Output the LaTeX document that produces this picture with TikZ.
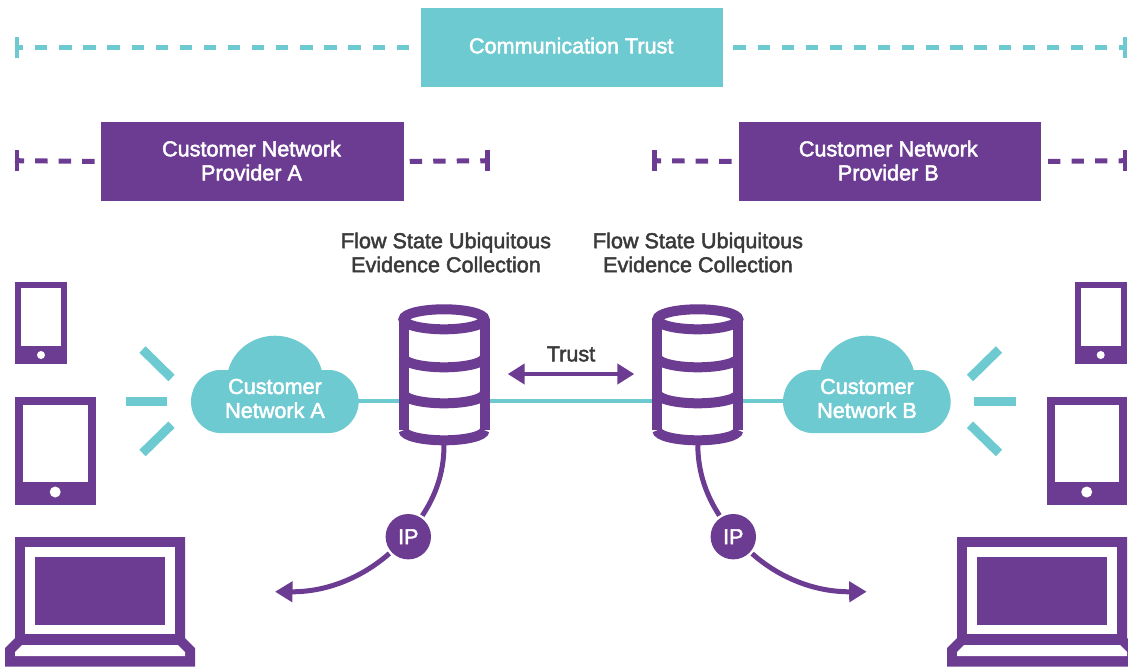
\documentclass[tikz,border=0pt]{standalone}
\usepackage{fontspec}
\setmainfont[FakeBold=2.2]{Liberation Sans}
\usetikzlibrary{arrows.meta}
\definecolor{teal0}{HTML}{6ECAD1}
\definecolor{purp}{HTML}{6C3C92}
\definecolor{ink}{HTML}{3A3A3A}
\tikzset{
  box/.style={inner sep=0pt,outer sep=0pt,minimum height=79pt,minimum width=302.5pt,align=center,text=white,text depth=2pt,font=\fontsize{21.6}{24}\selectfont},
  dashT/.style={teal0,line width=5pt,dash pattern=on 12.3pt off 11.8pt},
  dashP/.style={purp,line width=5pt,dash pattern=on 12.4pt off 11.1pt},
  barT/.style={teal0,line width=4.2pt},
  barP/.style={purp,line width=4.2pt},
  ray/.style={teal0,line width=9pt},
  link/.style={teal0,line width=4pt},
  flow/.style={purp,line width=5pt},
  head/.style={-{Triangle[length=17.5pt,width=20pt]}},
  label/.style={align=center,text=ink,font=\fontsize{21.6}{24}\selectfont,inner sep=0pt},
  cloudtext/.style={align=center,text=white,font=\fontsize{21.6}{24}\selectfont,inner sep=0pt,minimum width=168pt,minimum height=60pt},
  ipnode/.style={circle,fill=purp,text=white,minimum size=45.4pt,inner sep=0pt,outer sep=2.6pt,font=\fontsize{21.6}{24}\selectfont},
  dbbox/.style={inner sep=0pt,outer sep=0pt,minimum width=91pt,minimum height=89pt},
  dbpic/.pic={
    \fill[white] (-40.5,-81.4) rectangle (40.5,39.6);
    \draw[purp,line width=10pt] (0,-81.4) ellipse[x radius=40.5,y radius=10];
    \draw[purp,line width=10pt] (-40.5,-81.4) -- (-40.5,29.6) (40.5,-81.4) -- (40.5,29.6);
    \draw[purp,line width=10pt] (-40.5,-43.4) arc[start angle=180,end angle=0,x radius=40.5,y radius=10];
    \draw[purp,line width=10pt] (-40.5,-7.4) arc[start angle=180,end angle=0,x radius=40.5,y radius=10];
    \draw[purp,line width=10pt] (-40.5,29.6) arc[start angle=180,end angle=0,x radius=40.5,y radius=10];
  },
}
\newcommand{\cloudpath}[1]{%
  \fill[teal0,shift={(#1,0)}] (220,433) .. controls (204,433) and (191,418) .. (191,401.7)
    .. controls (191,385) and (204,370) .. (220,370) -- (228.3,370)
    .. controls (234,349) and (254,335.7) .. (275,335.7)
    .. controls (296,335.7) and (316,349) .. (321.7,370) -- (329,370)
    .. controls (345,370) and (358.7,385) .. (358.7,401.7)
    .. controls (358.7,418) and (345,433) .. (329,433) -- cycle;}
\newcommand{\phoneicon}[2]{%
  \fill[purp] (#1,#2) rectangle ++(52,82);
  \fill[white] (#1+6.3,#2+5.5) rectangle ++(40,58.5);
  \fill[white] (#1+26,#2+73) circle[radius=4];}
\newcommand{\tableticon}[2]{%
  \fill[purp] (#1,#2) rectangle ++(80.5,107.5);
  \fill[white] (#1+8,#2+7.5) rectangle ++(64.5,77);
  \fill[white] (#1+40.2,#2+95) circle[radius=5.5];}
\newcommand{\laptopicon}[1]{%
  \fill[purp] (#1,537) -- ++(170,0) -- ++(0,101) -- ++(10,10) -- ++(0,18.5) -- ++(-190,0) -- ++(0,-18.5) -- ++(10,-10) -- cycle;
  \fill[white] (#1+10,547) rectangle ++(150,87);
  \fill[purp] (#1+20,557) rectangle ++(130,68);
  \fill[white] (#1+7,645) -- ++(156,0) -- ++(7,7) -- ++(0,4) -- ++(-170,0) -- ++(0,-4) -- cycle;}
\begin{document}
\begin{tikzpicture}[x=1pt,y=-1pt]
\useasboundingbox (0,0) rectangle (1128,667);
\clip (0,0) rectangle (1128,667);
% banners
\node[box,fill=teal0,text depth=4pt] (comm) at (572.2,47.5) {Communication Trust\hspace*{2pt}};
\node[box,fill=purp] (provA) at (252.5,161.5) {Customer Network\hspace*{2pt}\\Provider A\hspace*{2pt}};
\node[box,fill=purp] (provB) at (889.8,161.5) {Customer Network\hspace*{3pt}\\Provider B\hspace*{3pt}};
% range ends
\coordinate (cL) at (15,47.5);
\coordinate (cR) at (1126.7,47.5);
\coordinate (aL) at (15,160.7);
\coordinate (aR) at (489.5,160.7);
\coordinate (bL) at (652.3,160.7);
\coordinate (bR) at (1126.7,160.7);
\draw[dashT,shorten <=12pt] (comm.west) -- (cL);
\draw[dashT,shorten <=10pt] (comm.east) -- (cR);
\draw[dashP,shorten <=6.7pt] (provA.west) -- (aL);
\draw[dashP,shorten <=6pt] (provA.east) -- (aR);
\draw[dashP,shorten <=7pt] (provB.west) -- (bL);
\draw[dashP,shorten <=7pt] (provB.east) -- (bR);
\draw[barT] ([xshift=2.1pt,yshift=10.4pt]cL) -- ++(0,20.8);
\draw[barT] ([xshift=-2.1pt,yshift=10.4pt]cR) -- ++(0,20.8);
\draw[barP] ([xshift=2.1pt,yshift=10.4pt]aL) -- ++(0,20.8);
\draw[barP] ([xshift=-2.1pt,yshift=10.4pt]aR) -- ++(0,20.8);
\draw[barP] ([xshift=2.1pt,yshift=10.4pt]bL) -- ++(0,20.8);
\draw[barP] ([xshift=-2.1pt,yshift=10.4pt]bR) -- ++(0,20.8);
% labels
\node[label] (flowA) at (446,252.5) {Flow State Ubiquitous\\Evidence Collection};
\node[label] (flowB) at (698,252.5) {Flow State Ubiquitous\\Evidence Collection};
\node[label] (trust) at (571,354) {Trust};
% devices
\phoneicon{15}{282}
\tableticon{15}{397}
\laptopicon{15}
\phoneicon{1074.7}{282}
\tableticon{1046.5}{397}
\laptopicon{957}
% rays
\draw[ray] (142.5,349.5) -- (171.5,378);
\draw[ray] (126,401.5) -- (167.3,401.5);
\draw[ray] (142.5,453) -- (171.5,424.7);
\draw[ray] (999,349.5) -- (970,378);
\draw[ray] (1015.6,401.5) -- (974,401.5);
\draw[ray] (999,453) -- (970,424.7);
% clouds
\cloudpath{0}
\cloudpath{592}
\node[cloudtext] (cloudA) at (275,398.5) {Customer\\Network A};
\node[cloudtext] (cloudB) at (867,398.5) {Customer\\Network B};
% databases
\node[dbbox] (db1) at (444,400.7) {};
\node[dbbox] (db2) at (697.8,400.7) {};
\draw[link] (358,400.7) -- (db1.west);
\draw[link] (db1.west) -- (db2.east);
\draw[link] (db2.east) -- (785,400.7);
\pic at (db1) {dbpic};
\pic at (db2) {dbpic};
% trust
\coordinate (tl) at (507.7,374);
\coordinate (tr) at (634.3,374);
\draw[purp,line width=4.5pt,{Triangle[length=17pt,width=20pt]}-{Triangle[length=17pt,width=20pt]}] (tl) -- (tr);
% IP
\node[ipnode] (ip1) at (408.3,536.7) {IP};
\node[ipnode] (ip2) at (733.3,536.7) {IP};
\coordinate (out1) at (275,591.7);
\coordinate (out2) at (866.7,591.7);
\draw[flow] (db1.south) .. controls (444,475) and (434,498) .. (ip1);
\draw[flow] (db2.south) .. controls (698,475) and (708,498) .. (ip2);
\draw[flow,head] (ip1) .. controls (365,575) and (330,592) .. (out1);
\draw[flow,head] (ip2) .. controls (776,575) and (811,592) .. (out2);
\end{tikzpicture}
\end{document}
